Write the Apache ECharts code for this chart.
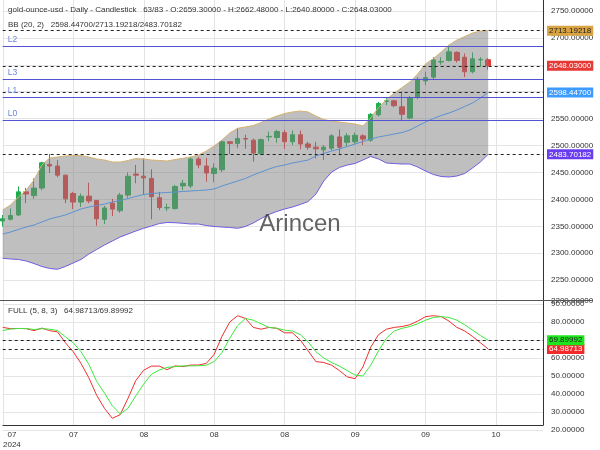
<!DOCTYPE html>
<html><head><meta charset="utf-8">
<script src="https://cdn.jsdelivr.net/npm/echarts@6/dist/echarts.min.js"></script>
<style>html,body{margin:0;padding:0;background:#fff}#c{width:600px;height:450px}</style>
</head><body><div id="c"></div>
<script>
// ---- data ----
const tickLabels = ['07\n2024', '07', '08', '08', '08', '09', '09', '10'];
const opens  = [2360,2363,2371,2414,2407,2421,2465,2462,2445,2411,2395,2406,2398,2363,2393,2379,2408,2447,2443,2439,2403,2384,2383,2425,2425,2475,2462,2448,2455,2507,2504,2513,2510,2485,2516,2515,2524,2507,2520,2503,2497,2492,2495,2516,2506,2507,2518,2510,2557,2582,2583,2572,2551,2589,2620,2627,2655,2658,2673,2664,2637,2659,2659.3];
const highs  = [2371,2383,2424,2421,2439,2470,2484,2473,2446,2414,2411,2431,2399,2388,2401,2412,2450,2464,2476,2456,2414,2392,2427,2436,2479,2479,2477,2467,2510,2508,2532,2520,2513,2513,2526,2529,2529,2528,2528,2507,2507,2501,2521,2530,2523,2524,2521,2560,2581,2588,2585,2600,2592,2627,2637,2664,2664,2687,2675,2671,2673,2664,2662.48];
const lows   = [2349,2361,2369,2393,2401,2417,2449,2441,2393,2382,2386,2393,2351,2354,2369,2375,2403,2430,2409,2363,2380,2378,2381,2417,2421,2458,2433,2432,2451,2484,2495,2494,2470,2482,2508,2505,2494,2501,2493,2492,2476,2473,2491,2482,2499,2503,2501,2507,2554,2575,2571,2547,2549,2586,2612,2623,2650,2656,2654,2627,2634,2646,2640.8];
const closes = [2364,2370,2414,2410,2421,2468,2462,2445,2401,2395,2406,2397,2364,2384,2382,2408,2443,2445,2440,2405,2385,2385,2424,2430,2475,2464,2449,2458,2507,2504,2513,2512,2486,2511,2517,2526,2507,2520,2503,2497,2494,2497,2518,2497,2518,2519,2512,2558,2578,2583,2574,2558,2589,2623,2626,2659,2656,2674,2658,2637,2661,2660,2648.03];
const bbUpper  = [2380.3,2389.6,2404.4,2417.4,2436.0,2463.8,2476.8,2478.7,2480.6,2481.5,2481.5,2478.7,2475.0,2473.1,2469.4,2469.4,2472.2,2475.9,2475.0,2473.1,2472.2,2471.3,2474.0,2476.3,2478.7,2482.4,2489.8,2499.1,2510.3,2523.3,2532.0,2534.4,2537.2,2542.8,2549.3,2554.8,2559.5,2562.3,2564.1,2562.3,2554.8,2548.3,2545.5,2543.7,2541.8,2540.0,2536.3,2551.1,2570.8,2585.3,2597.5,2607.7,2618.0,2632.8,2651.4,2661.6,2673.6,2686.6,2695.9,2702.4,2708.9,2712.6,2713.19218];
const bbMiddle = [2335.7,2339.4,2344.1,2348.7,2352.4,2358.0,2363.6,2367.3,2371.0,2376.6,2382.1,2385.8,2388.6,2391.4,2395.1,2397.9,2401.6,2405.4,2409.1,2410.9,2411.9,2412.8,2413.7,2414.7,2415.6,2416.5,2417.4,2419.3,2424.8,2429.5,2434.1,2438.8,2445.3,2450.9,2456.4,2461.1,2463.8,2467.6,2470.3,2473.1,2480.6,2485.2,2489.8,2493.5,2498.2,2502.8,2507.5,2512.1,2515.8,2518.6,2521.4,2524.2,2528.8,2536.3,2543.7,2550.2,2555.8,2560.4,2566.0,2572.5,2579.0,2588.2,2598.447];
const bbLower  = [2290.6,2289.3,2288.4,2285.6,2280.9,2275.4,2271.7,2270.2,2275.4,2281.9,2288.4,2298.6,2307.0,2315.3,2322.7,2330.2,2335.7,2341.3,2346.3,2350.6,2355.2,2357.1,2356.7,2355.6,2354.3,2354.3,2351.5,2349.7,2348.7,2347.8,2346.3,2349.7,2356.2,2364.5,2372.0,2377.5,2382.1,2385.8,2390.5,2396.0,2409.9,2434.1,2450.8,2459.2,2463.8,2466.6,2473.1,2479.6,2475.0,2467.6,2466.6,2465.7,2465.7,2460.1,2452.7,2446.2,2442.5,2441.6,2443.4,2448.0,2458.3,2469.4,2483.70182];
const stochK = [77.0,76.3,76.4,76.3,75.2,76.6,75.2,74.5,68.5,63.5,57.0,49.0,39.3,32.0,26.5,28.5,37.6,47.5,53.2,55.5,55.5,53.5,55.6,55.2,56.1,56.1,57,62,72,80,83.5,82,77,76,77,76.5,74,74,70,64,58,57.5,56,53,49.5,48.5,55,66,73,76,77,77.5,78.5,80.5,83,83.5,83,80.5,77,75,72,68.5,64.98713];
const stochD = [75.2,76.1,76.4,76.4,75.8,76.3,76.0,75.3,71.8,68.5,63.5,56.5,47,40.5,33.5,28.9,32,39,45.5,51,53.3,54.8,55.2,55.6,55.6,55.7,56,58,63,71,78,82,81,79,77,76.5,75.5,75,73,69,63.5,60,57.5,55.5,53,50.5,50,56,64,71,75,76.5,77.5,79,81,82.5,83,82.5,81,78.5,75.5,72.5,69.89992];
const levelNames  = ['L2', 'L3', 'L1', 'L0'];
const levelValues = [2684.78, 2623.53, 2589.17, 2547.47];
const symbolName = 'gold-ounce-usd';
const candleTotal = 83;
const slotCount = 70;
// ---------------------------------------

const n = closes.length;
const cats = Array.from({length: slotCount}, (_, i) => String(i));
const candleData = opens.map((o, i) => [o, closes[i], lows[i], highs[i]]);
const bandWidth = bbUpper.map((u, i) => +(u - bbLower[i]).toFixed(5));
const last = n - 1;
const f5 = v => Number(v).toFixed(5);
const FONT = 'Liberation Sans, Arial, sans-serif';
const txt = {fontSize: 8, color: '#333', fontFamily: FONT};

function boxLabel(v, bg, fg) {
  return {show: true, position: 'end', distance: 4, formatter: f5(v), backgroundColor: bg, color: fg,
          padding: [1, 2, 1, 2], fontSize: 8, fontFamily: FONT};
}
const dashStyle = {type: [3, 3], color: '#222', width: 1};
const mainMarks = [
  {yAxis: bbUpper[last], lineStyle: dashStyle, label: boxLabel(bbUpper[last], '#d9a441', '#222')},
  {yAxis: closes[last], lineStyle: dashStyle, label: boxLabel(closes[last], '#e53935', '#fff')},
  {yAxis: bbMiddle[last], lineStyle: dashStyle, label: boxLabel(bbMiddle[last], '#3d9bff', '#fff')},
  {yAxis: bbLower[last], lineStyle: dashStyle, label: boxLabel(bbLower[last], '#6a3cf0', '#fff')}
];
levelValues.forEach((v, k) => {
  mainMarks.push({yAxis: v, lineStyle: {type: 'solid', color: '#5252d4', width: 1.2},
    label: {show: true, position: 'insideStartTop', distance: [5, 2], formatter: levelNames[k], color: '#6a84e2', fontSize: 8.5, fontFamily: FONT}});
  mainMarks.push({yAxis: v, lineStyle: {opacity: 0},
    label: {show: true, position: 'insideEndTop', distance: [34, 2], formatter: v.toFixed(2), color: '#7a92e4', fontSize: 8.5, fontFamily: FONT}});
});

const baseX = {type: 'category', data: cats, boundaryGap: false};
const option = {
  animation: false,
  backgroundColor: '#fff',
  textStyle: {fontFamily: FONT},
  title: [
    {text: symbolName + ' - Daily - Candlestick   ' + n + '/' + candleTotal + ' - O:' + f5(opens[last]) + ' - H:' + f5(highs[last]) + ' - L:' + f5(lows[last]) + ' - C:' + f5(closes[last]),
     left: 8, top: 6, padding: 0, textStyle: Object.assign({fontWeight: 'normal'}, txt)},
    {text: 'BB (20, 2)   ' + f5(bbMiddle[last]) + '/' + f5(bbUpper[last]) + '/' + f5(bbLower[last]),
     left: 8, top: 21, padding: 0, textStyle: Object.assign({fontWeight: 'normal'}, txt)},
    {text: 'FULL (5, 8, 3)   ' + f5(stochK[last]) + '/' + f5(stochD[last]),
     left: 8, top: 307, padding: 0, textStyle: Object.assign({fontWeight: 'normal'}, txt)}
  ],
  grid: [
    {left: 2.7, right: 57, top: 0, height: 432},
    {left: 2.7, right: 57, top: 10.9, height: 296.2},
    {left: 2.7, right: 57, top: 304, height: 126}
  ],
  xAxis: [
    Object.assign({}, baseX, {gridIndex: 0,
      axisLine: {show: true, lineStyle: {color: '#333', width: 1}},
      axisTick: {show: false},
      axisLabel: {interval: 8, margin: 5, lineHeight: 10, fontSize: 8, color: '#333', fontFamily: FONT,
        alignMinLabel: 'left',
        formatter: (v, i) => (i % 9 === 0 && tickLabels[i / 9] !== undefined) ? (i === 0 ? '  ' + tickLabels[0] : tickLabels[i / 9]) : ''},
      splitLine: {show: true, interval: 8, lineStyle: {color: '#e4e4e4', width: 1}}}),
    Object.assign({}, baseX, {gridIndex: 1, show: false}),
    Object.assign({}, baseX, {gridIndex: 2, show: false})
  ],
  yAxis: [
    {gridIndex: 0, type: 'value', min: 0, max: 1, position: 'right',
     axisLine: {show: true, lineStyle: {color: '#333', width: 1}}, axisTick: {show: false},
     axisLabel: {show: false}, splitLine: {show: false}},
    {gridIndex: 1, type: 'value', min: 2200, max: 2750, interval: 50, position: 'right',
     axisLine: {show: false}, axisTick: {show: false},
     axisLabel: {margin: 8, fontSize: 8, color: '#333', fontFamily: FONT,
       formatter: v => v === 2200 ? '{lo|' + f5(v) + '}' : f5(v),
       rich: {lo: {fontSize: 8, color: '#333', fontFamily: FONT, padding: [0, 0, 12, 0]}}},
     splitLine: {show: true, showMinLine: false, lineStyle: {color: '#e4e4e4', width: 1}}},
    {gridIndex: 2, type: 'value', min: 20, max: 90, interval: 10, position: 'right',
     axisLine: {show: false}, axisTick: {show: false},
     axisLabel: {margin: 8, fontSize: 8, color: '#333', fontFamily: FONT, formatter: v => f5(v)},
     splitLine: {show: true, lineStyle: {color: '#e4e4e4', width: 1}}}
  ],
  series: [
    {type: 'candlestick', xAxisIndex: 1, yAxisIndex: 1, data: candleData, barWidth: 5, z: 2,
     itemStyle: {color: '#1fae4f', color0: '#e83838', borderColor: '#1fae4f', borderColor0: '#e83838', borderWidth: 1}},
    {type: 'line', xAxisIndex: 1, yAxisIndex: 1, data: bbLower, stack: 'bb', symbol: 'none', z: 3, silent: true,
     lineStyle: {opacity: 0}},
    {type: 'line', xAxisIndex: 1, yAxisIndex: 1, data: bandWidth, stack: 'bb', symbol: 'none', z: 3, silent: true,
     lineStyle: {opacity: 0}, areaStyle: {color: 'rgba(128,128,128,0.5)', opacity: 1}},
    {type: 'line', xAxisIndex: 1, yAxisIndex: 1, data: bbUpper, symbol: 'none', z: 4, silent: true,
     lineStyle: {color: '#d6b26e', width: 1}},
    {type: 'line', xAxisIndex: 1, yAxisIndex: 1, data: bbLower, symbol: 'none', z: 4, silent: true,
     lineStyle: {color: '#6d5ee0', width: 1}},
    {type: 'line', xAxisIndex: 1, yAxisIndex: 1, data: bbMiddle, symbol: 'none', z: 4, silent: true,
     lineStyle: {color: '#5d92d0', width: 1},
     markLine: {symbol: ['none', 'none'], silent: true, animation: false, data: mainMarks}},
    {type: 'line', xAxisIndex: 2, yAxisIndex: 2, data: stochK, symbol: 'none', z: 4, silent: true,
     lineStyle: {color: '#ee3030', width: 1},
     markLine: {symbol: ['none', 'none'], silent: true, animation: false,
       data: [{yAxis: stochK[last], lineStyle: dashStyle, label: boxLabel(stochK[last], '#f42a2a', '#fff')}]}},
    {type: 'line', xAxisIndex: 2, yAxisIndex: 2, data: stochD, symbol: 'none', z: 4, silent: true,
     lineStyle: {color: '#3ee83e', width: 1},
     markLine: {symbol: ['none', 'none'], silent: true, animation: false,
       data: [{yAxis: stochD[last], lineStyle: dashStyle, label: boxLabel(stochD[last], '#1ee61e', '#222')}]}}
  ],
  graphic: [
    {type: 'line', silent: true, z: 10, shape: {x1: 0, y1: 300.5, x2: 593, y2: 300.5}, style: {stroke: '#555', lineWidth: 1}},
    {type: 'text', silent: true, z: 10, x: 300, y: 224,
     style: {text: 'Arincen', textAlign: 'center', textVerticalAlign: 'middle', fontSize: 24, fontFamily: FONT, fill: 'rgba(60,60,60,0.8)'}}
  ]
};
const chart = echarts.init(document.getElementById('c'), null, {renderer: 'canvas'});
chart.setOption(option);
</script>
</body></html>
